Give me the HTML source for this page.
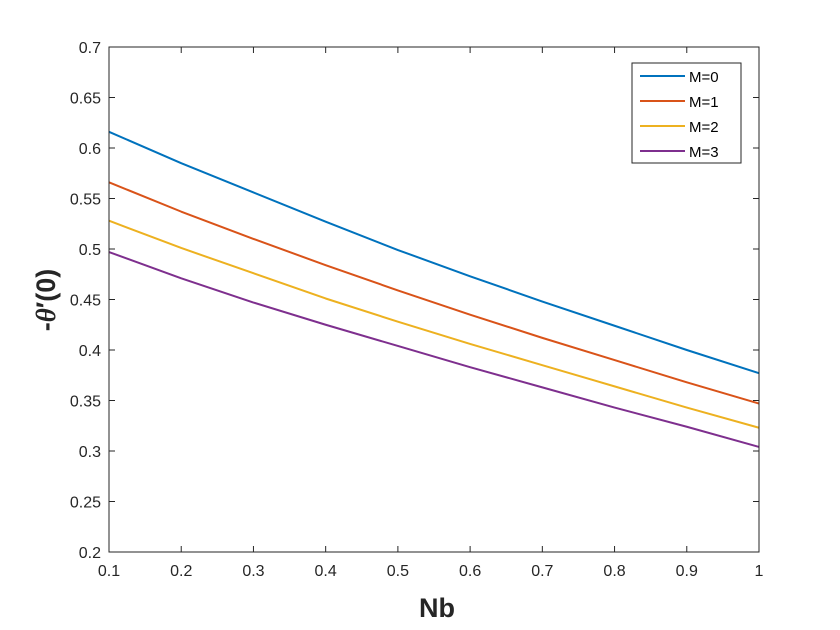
<!DOCTYPE html>
<html><head><meta charset="utf-8"><style>
body{margin:0;background:#fff;}
svg{display:block;font-family:"Liberation Sans",sans-serif;}
</style></head><body>
<svg id="chart" width="840" height="630">
<rect width="840" height="630" fill="#fff"/>
<g id="plot"></g>
</svg>
<script>
const xValues=[0.1,0.2,0.3,0.4,0.5,0.6,0.7,0.8,0.9,1.0];
const seriesM0=[0.616,0.585,0.556,0.527,0.499,0.473,0.448,0.424,0.400,0.377];
const seriesM1=[0.566,0.537,0.510,0.484,0.459,0.435,0.412,0.390,0.368,0.347];
const seriesM2=[0.528,0.501,0.476,0.451,0.428,0.406,0.385,0.364,0.343,0.323];
const seriesM3=[0.497,0.471,0.447,0.425,0.404,0.383,0.363,0.343,0.324,0.304];
const seriesNames=["M=0","M=1","M=2","M=3"];
const xTicks=["0.1","0.2","0.3","0.4","0.5","0.6","0.7","0.8","0.9","1"];
const yTicks=["0.2","0.25","0.3","0.35","0.4","0.45","0.5","0.55","0.6","0.65","0.7"];

const L=109,R=759,T=47,B=552,xmin=0.1,xmax=1,ymin=0.2,ymax=0.7;
const sx=v=>L+(v-xmin)/(xmax-xmin)*(R-L);
const sy=v=>B-(v-ymin)/(ymax-ymin)*(B-T);
const NS="http://www.w3.org/2000/svg";
const g=document.getElementById('plot');
function mk(tag,attrs,parent){const e=document.createElementNS(NS,tag);for(const k in attrs)e.setAttribute(k,attrs[k]);(parent||g).appendChild(e);return e;}
const colors=["#0072BD","#D95319","#EDB120","#7E2F8E"];
const all=[seriesM0,seriesM1,seriesM2,seriesM3];

all.forEach((s,i)=>{
  const p=mk('polyline',{points:s.map((v,j)=>sx(xValues[j])+','+sy(v)).join(' '),fill:'none',stroke:colors[i],'stroke-width':2,'stroke-linejoin':'round'});
  
  
});

const ax=mk('rect',{x:L,y:T,width:R-L,height:B-T,fill:'none',stroke:'#262626','stroke-width':1});



xTicks.forEach(t=>{
  const x=sx(parseFloat(t));
  mk('line',{x1:x,y1:B,x2:x,y2:B-6,stroke:'#262626'});
  mk('line',{x1:x,y1:T,x2:x,y2:T+6,stroke:'#262626'});
  const tx=mk('text',{x:x,y:B+24,'text-anchor':'middle','font-size':16,fill:'#262626'});
  tx.textContent=t;
  
  
});
yTicks.forEach(t=>{
  const y=sy(parseFloat(t));
  mk('line',{x1:L,y1:y,x2:L+6,y2:y,stroke:'#262626'});
  mk('line',{x1:R,y1:y,x2:R-6,y2:y,stroke:'#262626'});
  const tx=mk('text',{x:L-8,y:y+6,'text-anchor':'end','font-size':16,fill:'#262626'});
  tx.textContent=t;
  
  
});

const xl=mk('text',{x:437,y:617,'text-anchor':'middle','font-size':27,'font-weight':'bold',fill:'#262626'});
xl.textContent='Nb';


const yl=mk('text',{x:0,y:0,'text-anchor':'middle','font-size':27,'font-weight':'bold',fill:'#262626',transform:'translate(55,300) rotate(-90)'});
yl.innerHTML='-<tspan font-style="italic" font-family="Liberation Serif">θ</tspan>′(0)';



const lg=mk('g',{});


mk('rect',{x:632,y:63,width:109,height:100,fill:'#fff',stroke:'#262626'},lg);
seriesNames.forEach((n,i)=>{
  const y=76+i*25;
  const en=mk('g',{},lg);
  
  
  mk('line',{x1:640,y1:y,x2:685,y2:y,stroke:colors[i],'stroke-width':2},en);
  const t=mk('text',{x:689,y:y+6,'font-size':15,fill:'#000'},en);
  t.textContent=n;
});
</script>
</body></html>
